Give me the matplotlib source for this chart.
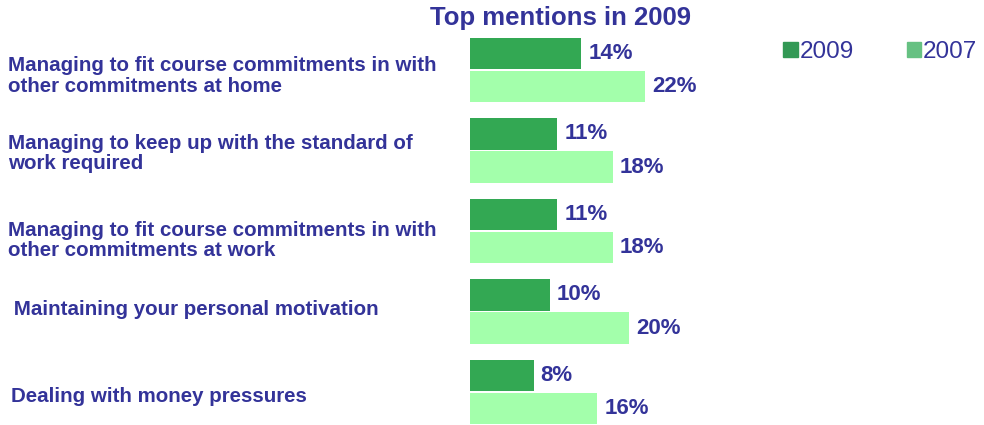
import matplotlib
matplotlib.use("Agg")
import matplotlib.pyplot as plt

categories = [
    "Managing to fit course commitments in with\nother commitments at home",
    "Managing to keep up with the standard of\nwork required",
    "Managing to fit course commitments in with\nother commitments at work",
    " Maintaining your personal motivation",
    "Dealing with money pressures",
]
label_dx_px = [0, 0, 0, 0, 3]
label_dy_px = [-6, -3, -9.5, 2, -4]
values_2009 = [14, 11, 11, 10, 8]
values_2007 = [22, 18, 18, 20, 16]
series_names = ["2009", "2007"]
title = "Top mentions in 2009"

TXT = "#333399"
C2009 = "#33A853"
C2007 = "#A3FFAB"
LEG2009 = "#339955"
LEG2007 = "#66C182"

plt.rcParams['font.family'] = ['Liberation Sans', 'DejaVu Sans']

W, H = 984, 425
fig = plt.figure(figsize=(W / 100, H / 100), dpi=100)
ax_left = 470 / W
ax = fig.add_axes([ax_left, 0, 1 - ax_left, 1])
px_per_unit = 7.95
ax.set_xlim(0, (W - 470) / px_per_unit)
pitch = 80.5
ax.set_ylim(4 + (H - 392) / pitch, -70 / pitch)
ax.axis("off")

ys = list(range(len(categories)))
h = 0.39
off = 0.205
b1 = ax.barh([y - off for y in ys], values_2009, height=h, color=C2009, label=series_names[0])
b2 = ax.barh([y + off for y in ys], values_2007, height=h, color=C2007, label=series_names[1])

for bars, vals in ((b1, values_2009), (b2, values_2007)):
    ax.bar_label(bars, labels=[f"{v}%" for v in vals], padding=5, color=TXT,
                 fontsize=16, fontweight="bold")

for y, lab, dx, dy in zip(ys, categories, label_dx_px, label_dy_px):
    ax.annotate(lab, xy=(0, y), xycoords=("figure pixels", "data"),
                xytext=(8 + dx, dy), textcoords="offset pixels",
                ha="left", va="center", fontsize=14.8, fontweight="bold",
                color=TXT, linespacing=1.08)

fig.text(560 / W, 1 - 18 / H, title, ha="center", va="center",
         fontsize=18.5, fontweight="bold", color=TXT)

leg = ax.legend(loc="upper left", bbox_to_anchor=(783 / W, 1 - 41 / H),
                bbox_transform=fig.transFigure, ncol=2, frameon=False,
                fontsize=17.5, handlelength=0.6, handleheight=0.6,
                handletextpad=0.08, columnspacing=2.17, labelcolor=TXT,
                borderpad=0, borderaxespad=0)
for hnd, c in zip(leg.legend_handles, (LEG2009, LEG2007)):
    hnd.set_facecolor(c)
    hnd.set_edgecolor(c)

fig.savefig("out.png", dpi=100)
